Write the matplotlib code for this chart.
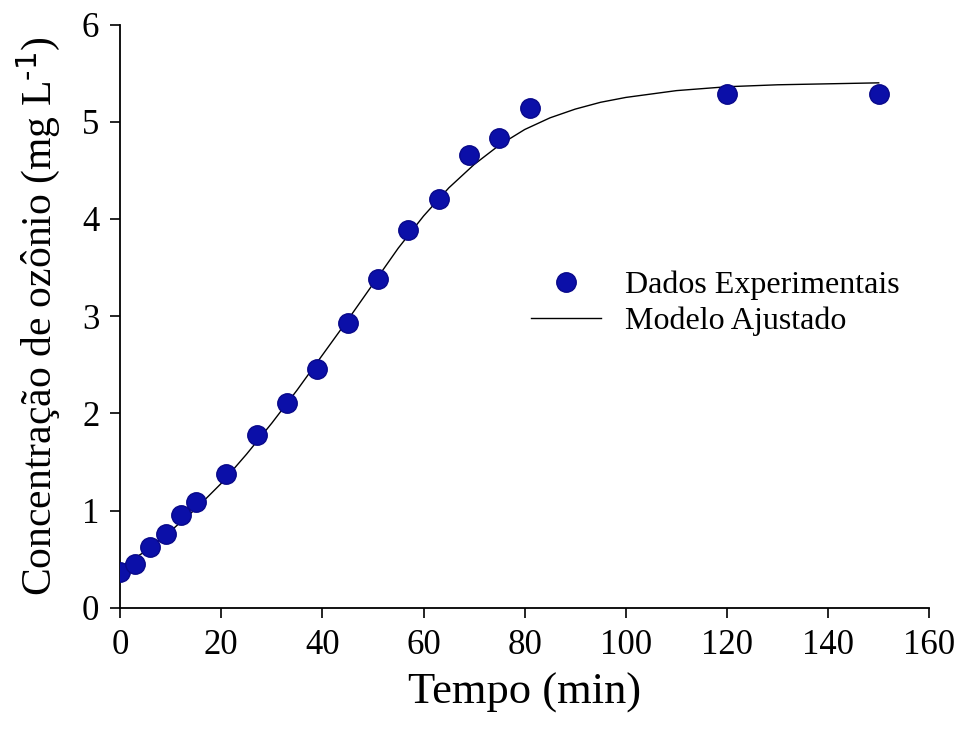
import matplotlib
matplotlib.use("Agg")
import matplotlib.pyplot as plt

plt.rcParams['font.family'] = ['Liberation Serif', 'DejaVu Serif']
plt.rcParams['mathtext.default'] = 'regular'

# experimental data
tempo = [0, 3, 6, 9, 12, 15, 21, 27, 33, 39, 45, 51, 57, 63, 69, 75, 81, 120, 150]
ozonio = [0.37, 0.45, 0.63, 0.76, 0.95, 1.09, 1.38, 1.78, 2.11, 2.46, 2.93, 3.38,
          3.89, 4.21, 4.66, 4.83, 5.14, 5.29, 5.29]

# fitted model
tempo_mod = [0, 5, 10, 15, 20, 25, 30, 35, 40, 45, 50, 55, 60, 65, 70, 75, 80,
             85, 90, 95, 100, 110, 120, 130, 140, 150]
ozonio_mod = [0.42, 0.58, 0.79, 1.02, 1.28, 1.58, 1.90, 2.24, 2.60, 2.96, 3.33,
              3.70, 4.03, 4.32, 4.56, 4.76, 4.92, 5.04, 5.13, 5.20, 5.25, 5.32,
              5.36, 5.38, 5.39, 5.40]

fig = plt.figure(figsize=(9.61, 7.43), dpi=100)
ax = fig.add_axes([0.125, 0.182, 0.842, 0.785])

ax.plot(tempo, ozonio, 'o', color='#0b0fa8', markeredgecolor='#08088a',
        markersize=14, label='Dados Experimentais', zorder=3)
ax.plot(tempo_mod, ozonio_mod, '-', color='black', lw=1.0, label='Modelo Ajustado')

ax.set_xlim(0, 160)
ax.set_ylim(0, 6)
ax.set_xticks(range(0, 161, 20))
ax.set_yticks(range(0, 7))

for s in ['top', 'right']:
    ax.spines[s].set_visible(False)
for s in ['left', 'bottom']:
    ax.spines[s].set_linewidth(1.3)

ax.tick_params(direction='out', length=7, width=1.2, labelsize=25, pad=8)

ax.set_xlabel('Tempo (min)', fontsize=32, labelpad=8)
ax.set_ylabel(r'Concentração de ozônio (mg L$^{\text{-1}}$)', fontsize=30, labelpad=14)

ax.legend(loc='upper left', bbox_to_anchor=(0.472, 0.627), frameon=False,
          fontsize=23, handlelength=2.2, handletextpad=0.75, labelspacing=0.2)

fig.savefig('out.png', dpi=100)
